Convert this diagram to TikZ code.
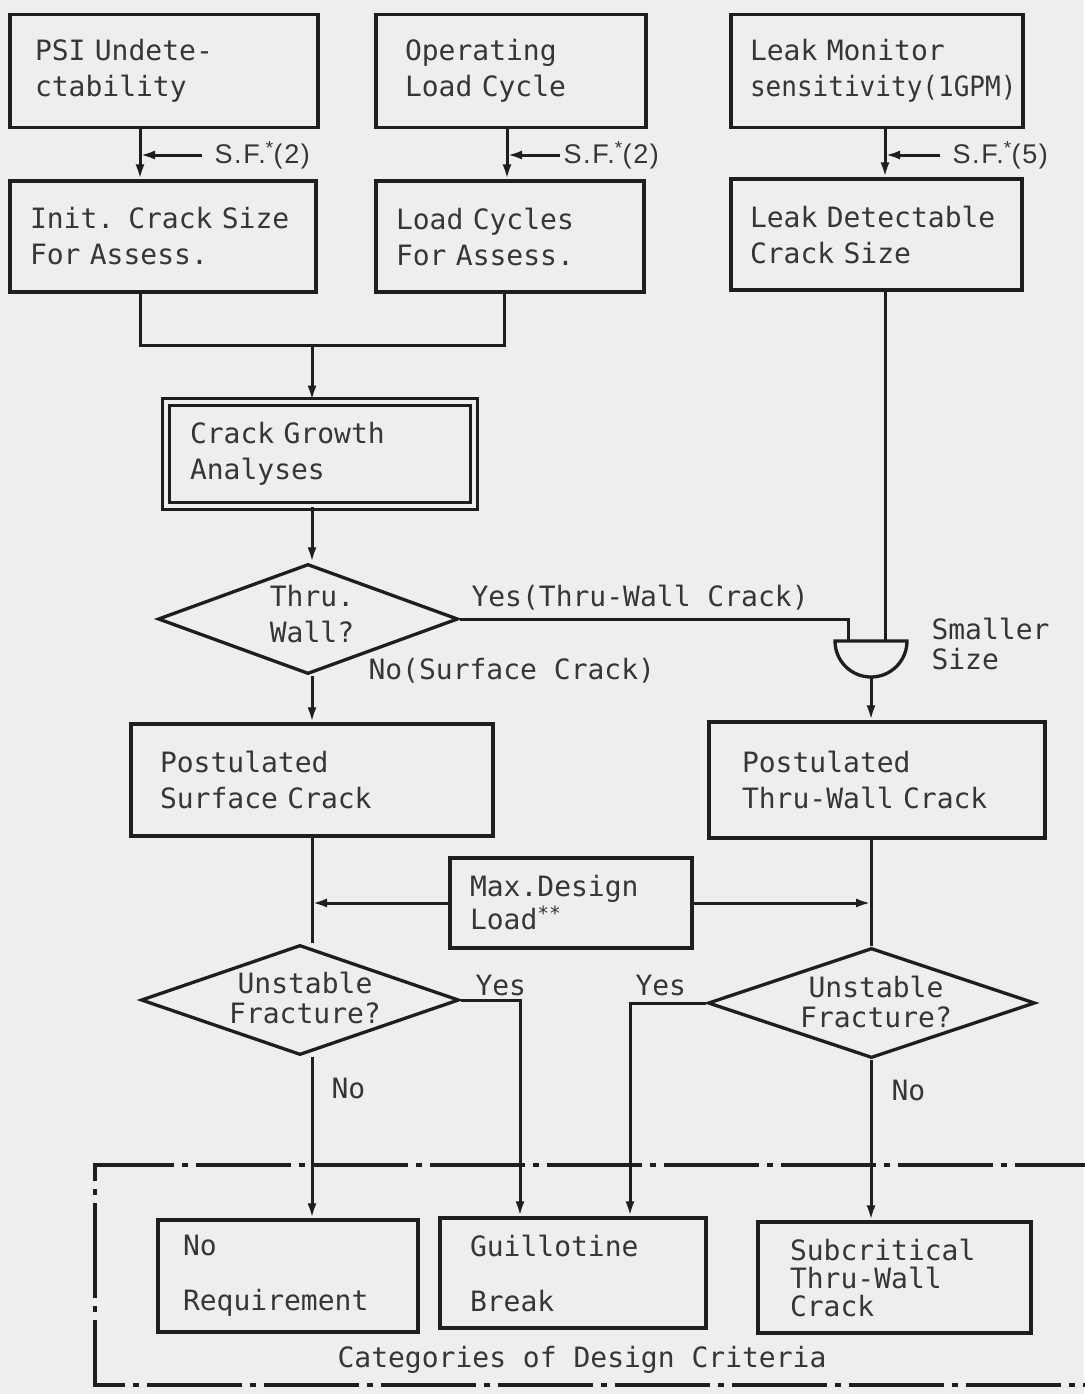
\documentclass[tikz,border=0pt]{standalone}
\usepackage{fontspec}
\setmainfont{DejaVu Sans Mono}
\newfontfamily\sff[LetterSpace=6]{Liberation Sans}
\usetikzlibrary{shapes.geometric,arrows.meta}
\definecolor{bg}{HTML}{EEEEEC}
\definecolor{ink}{HTML}{1E1E1E}
\definecolor{txt}{HTML}{363636}
\newcommand\fs{\fontsize{28pt}{36pt}\selectfont}
\newcommand\sflbl[1]{{\sff\fontsize{27pt}{32pt}\selectfont S.F.\textsuperscript{*}(#1)}}
\begin{document}
\begin{tikzpicture}[x=1pt,y=-1pt,
  line width=3pt, draw=ink,
  box/.style={draw=ink, line width=3.3pt, rectangle, align=left, inner sep=0pt, text=txt, font=\fs},
  dia/.style={draw=ink, line width=3.3pt, diamond, inner sep=0pt},
  lbl/.style={text=txt, font=\fs, inner sep=0pt, align=center},
  arr/.style={-{Latex[length=15pt,width=9pt]}},
  frame/.style={draw=ink, line width=3.3pt, dash pattern=on 95pt off 8pt on 6pt off 8pt}]
\fill[bg] (0,0) rectangle (1084,1394);
\useasboundingbox (0,0) rectangle (1084,1394);

% column coordinates
\coordinate (cA) at (140,0);
\coordinate (cB) at (507,0);
\coordinate (cC) at (885,0);
\coordinate (cL) at (312,0);
\coordinate (cR) at (871,0);
\coordinate (gx) at (848,0);

% top boxes
\node[box, minimum width=308pt, minimum height=113pt, text width=258pt] (psi) at (164,71) {PSI Undete-\\ctability};
\node[box, minimum width=270pt, minimum height=113pt, text width=212pt] (oper) at (511,71) {Operating\\Load Cycle};
\node[box, minimum width=292pt, minimum height=113pt, text width=254pt] (leakmon) at (877,71) {Leak Monitor\\\mbox{\addfontfeature{FakeStretch=0.93}sensitivity(1GPM)}};

\node[box, minimum width=306pt, minimum height=111pt, text width=266pt] (init) at (163,236.5) {\mbox{Init. Crack Size}\\For Assess.};
\node[box, minimum width=268pt, minimum height=111pt, text width=228pt] (loadc) at (510,236.5) {Load Cycles\\For Assess.};
\node[box, minimum width=291pt, minimum height=111pt, text width=253pt] (leakdet) at (876.5,234.5) {\mbox{Leak Detectable}\\Crack Size};

% S.F. arrows
\draw[arr] (psi.south -| cA) -- (init.north -| cA);
\draw[arr] (oper.south -| cB) -- (loadc.north -| cB);
\draw[arr] (leakmon.south -| cC) -- (leakdet.north -| cC);
\coordinate (sf1) at (202,155);
\coordinate (sf2) at (560,155);
\coordinate (sf3) at (940,155);
\draw[arr] (sf1) -- (sf1 -| cA);
\draw[arr] (sf2) -- (sf2 -| cB);
\draw[arr] (sf3) -- (sf3 -| cC);
\node[lbl, anchor=west] (sfl1) at (213,155) {\sflbl{2}};
\node[lbl, anchor=west] (sfl2) at (562,155) {\sflbl{2}};
\node[lbl, anchor=west] (sfl3) at (951,155) {\sflbl{5}};

% merge
\coordinate (m1) at (140,345);
\coordinate (m2) at (504,345);
\coordinate (m3) at (312,345);
\draw (init.south -| cA) -- (m1) -- (m2) -- (loadc.south -| m2);

% crack growth
\node[box, double=bg, double distance=4.5pt, line width=2.8pt, minimum width=308pt, minimum height=104pt, text width=260pt] (cga) at (320,454) {Crack Growth\\Analyses};
\draw[arr] (m3) -- (cga.north -| m3);

% thru wall diamond
\node[dia, minimum width=300pt, minimum height=110pt] (thru) at (308,619) {};
\node[lbl] (thrut) at (312,614) {Thru.\\Wall?};
\draw[arr] (cga.south -| cL) -- (thru.north -| cL);

% gate
\coordinate (gtl) at (835,641);
\coordinate (gtr) at (907,641);
\coordinate (gout) at (871,677);
\draw[line width=3.3pt] (gtl) .. controls (835,660.9) and (851.1,677) .. (gout) .. controls (890.9,677) and (907,660.9) .. (gtr) -- cycle;
\draw (thru.east) -- (thru.east -| gx) -- (gtl -| gx);
\draw (leakdet.south -| cC) -- (gtl -| cC);
\node[lbl, align=left, anchor=north west] (smaller) at (930,617) {Smaller\\[-6pt]Size};

\node[lbl, anchor=west] (yes1) at (470,598) {Yes(Thru-Wall Crack)};
\node[lbl, anchor=west] (no1) at (367,671) {No(Surface Crack)};

% postulated
\node[box, minimum width=362pt, minimum height=112pt, text width=304pt] (pss) at (312,780) {Postulated\\Surface Crack};
\node[box, minimum width=336pt, minimum height=116pt, text width=270pt] (pst) at (877,780) {Postulated\\Thru-Wall Crack};
\draw[arr] (thru.south -| cL) -- (pss.north -| cL);
\draw[arr] (gout) -- (pst.north -| cR);

% max design load
\node[box, minimum width=242pt, minimum height=90pt, text width=202pt] (maxd) at (571,903) {Max.Design\\[-3pt]Load\textsuperscript{**}};

% unstable diamonds
\node[dia, minimum width=318pt, minimum height=110pt] (ul) at (300,1000) {};
\node[lbl] (ult) at (305,998) {Unstable\\[-6pt]Fracture?};
\node[dia, minimum width=327pt, minimum height=110pt] (ur) at (871.5,1003) {};
\node[lbl] (urt) at (876,1002) {Unstable\\[-6pt]Fracture?};

\draw (pss.south -| cL) -- (ul.north -| cL);
\draw (pst.south -| cR) -- (ur.north -| cR);
\draw[arr] (maxd.west) -- (maxd.west -| cL);
\draw[arr] (maxd.east) -- (maxd.east -| cR);

% bottom boxes
\node[box, minimum width=260pt, minimum height=112pt, text width=210pt] (noreq) at (288,1276) {No\\[19pt]Requirement};
\node[box, minimum width=266pt, minimum height=110pt, text width=206pt] (guil) at (573,1273) {Guillotine\\[19pt]Break};
\node[box, minimum width=273pt, minimum height=111pt, text width=209pt, font=\fontsize{28pt}{28pt}\selectfont] (subc) at (894.5,1277.5) {Subcritical\\Thru-Wall\\Crack};

\coordinate (y1) at (520,1000);
\coordinate (y2) at (630,1003);
\draw[arr] (ul.east) -- (y1) -- (guil.north -| y1);
\draw[arr] (ur.west) -- (y2) -- (guil.north -| y2);
\draw[arr] (ul.south -| cL) -- (noreq.north -| cL);
\draw[arr] (ur.south -| cR) -- (subc.north -| cR);

\node[lbl, anchor=west] (yes2) at (474,985) {Yes};
\node[lbl, anchor=west] (yes3) at (634,985) {Yes};
\node[lbl, anchor=west] (no2) at (330,1088) {No};
\node[lbl, anchor=west] (no3) at (890,1090) {No};

% frame
\draw[frame] (1110,1165) -- (95,1165) -- (95,1385) -- (1110,1385);
\node[lbl] (cat) at (582,1360) {Categories of Design Criteria};
\end{tikzpicture}
\end{document}
